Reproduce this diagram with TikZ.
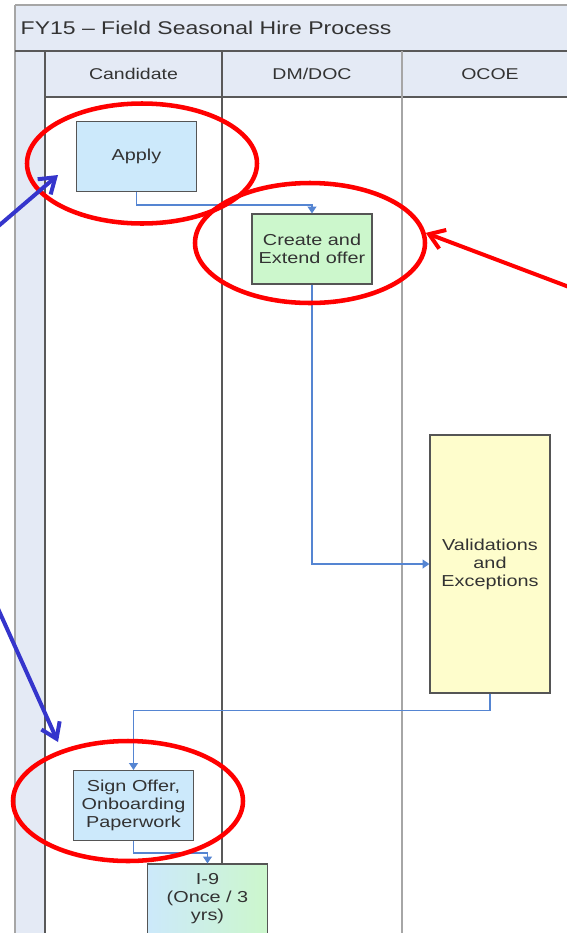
\documentclass[tikz,border=0pt]{standalone}
\usepackage{fontspec}
\setmainfont{Liberation Sans}[FakeStretch=1.25]
\usetikzlibrary{arrows.meta,shapes.geometric}

\definecolor{laneblue}{HTML}{E4EAF5}
\definecolor{candblue}{HTML}{CCE9FB}
\definecolor{offergreen}{HTML}{CCF7CC}
\definecolor{valyellow}{HTML}{FEFDCC}
\definecolor{flowblue}{HTML}{5585D2}
\definecolor{boxedge}{HTML}{555555}
\definecolor{ink}{HTML}{333333}
\definecolor{markblue}{HTML}{3535CC}

\begin{document}
\begin{tikzpicture}[x=0.75pt,y=-0.75pt,
task/.style={
	% The shape:
	rectangle,
	% The size:
	minimum width=90pt,minimum height=52.5pt,inner sep=1pt,
	% The border:
	draw=boxedge,line width=0.9pt,
	% Font
	text=ink,align=center,font=\fontsize{11.9}{13.5}\selectfont},
cand/.style={task,fill=candblue},
offer/.style={task,fill=offergreen},
check/.style={task,fill=valyellow},
form/.style={task,left color=candblue,right color=offergreen},
lanehead/.style={text=ink,font=\fontsize{11.7}{13}\selectfont},
lanedark/.style={draw=black!65,line width=1.1pt},
lanegray/.style={draw=black!35,line width=1.1pt},
flow/.style={draw=flowblue,line width=1pt,-{Triangle[length=5pt,width=6.5pt]}},
ring/.style={ellipse,draw=red,line width=3.4pt,minimum width=172.5pt,minimum height=90pt,inner sep=0pt},
pointer/.style={line width=3pt,-{Straight Barb[length=11pt,width=15pt]}}]

\clip (0,0) rectangle (567,933);
\fill[white] (0,0) rectangle (567,933);

% swimlanes
\fill[laneblue] (15,5) rectangle (580,51);
\fill[laneblue] (45,51) rectangle (580,97);
\fill[laneblue] (15,51) rectangle (45,940);
\draw[lanegray] (15,5) -- (580,5);
\draw[lanegray] (15,5) -- (15,940);
\draw[lanedark] (15,51) -- (580,51);
\draw[lanedark] (45,51) -- (45,940);
\draw[lanedark] (45,97) -- (580,97);
\draw[lanedark] (222,51) -- (222,940);
\draw[lanegray] (402,51) -- (402,940);

\node (title) [anchor=west,text=ink,font=\fontsize{13.8}{15}\selectfont] at (16,28) {FY15 – Field Seasonal Hire Process};
\node (candidate) [lanehead] at (133.5,74) {Candidate};
\node (dmdoc) [lanehead] at (312,74) {DM/DOC};
\node (ocoe) [lanehead] at (490,74) {OCOE};

% process boxes
\node (apply) [cand] at (136.5,156.5) {Apply};
\node (extend) [offer] at (312,249) {Create and\\Extend offer};
\node (valid) [check,minimum height=193.5pt] at (490,564) {Validations\\and\\Exceptions};
\node (sign) [cand] at (133.5,805.5) {Sign Offer,\\Onboarding\\Paperwork};
\node (i9) [form] at (207.5,899) {I-9\\(Once / 3\\yrs)};

\draw[flow] (apply.south) -- ++(0,13) -| (extend.north);
\draw[flow] (extend.south) |- (valid.west);
\draw[flow] (valid.south) -- ++(0,17) -| (sign.north);
\draw[flow] (sign.south) -- ++(0,12) -| (i9.north);

% highlights
\node (ring1) [ring] at (142,163.5) {};
\node (ring2) [ring] at (310,243) {};
\node (ring3) [ring] at (128,801) {};

\coordinate (redtail) at (585,293);
\coordinate (applymark) at (58,175);
\coordinate (applytail) at (-5,229);
\coordinate (signmark) at (58,742);
\coordinate (signtail) at (-5,602);
\draw[pointer,red] (redtail) -- (ring2.5);
\draw[pointer,markblue] (applytail) -- (applymark);
\draw[pointer,markblue] (signtail) -- (signmark);

\end{tikzpicture}
\end{document}
